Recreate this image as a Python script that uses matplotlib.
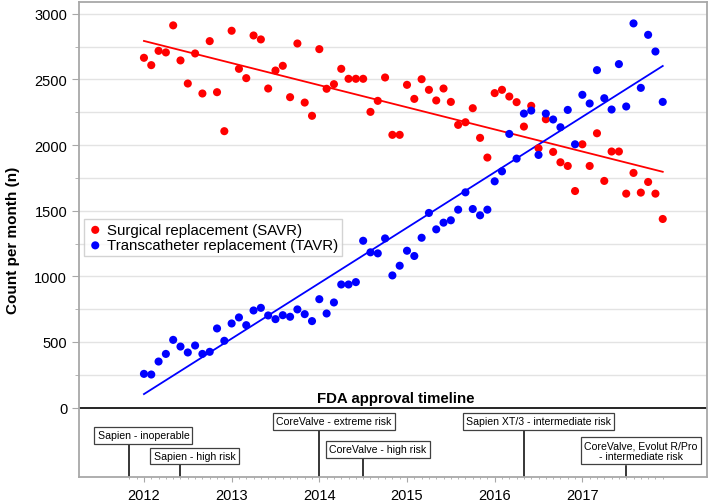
import numpy as np
import matplotlib
matplotlib.use("Agg")
import matplotlib.pyplot as plt
from matplotlib.ticker import FixedLocator

plt.rcParams['font.family'] = ['Liberation Sans', 'DejaVu Sans']

# monthly counts, Jan 2012 - Dec 2017
start_year = 2012
savr = [2665, 2609, 2718, 2706, 2912, 2645, 2469, 2698, 2393, 2792, 2403, 2106,
        2871, 2581, 2510, 2835, 2805, 2431, 2568, 2604, 2365, 2774, 2324, 2223,
        2731, 2429, 2464, 2581, 2505, 2505, 2505, 2253, 2337, 2515, 2078, 2078,
        2459, 2352, 2502, 2421, 2340, 2431, 2329, 2154, 2174, 2281, 2055, 1905,
        2396, 2421, 2370, 2327, 2141, 2299, 1976, 2197, 1948, 1869, 1841, 1650,
        2006, 1841, 2090, 1727, 1951, 1951, 1630, 1788, 1638, 1719, 1630, 1437]
tavr = [257, 252, 351, 409, 516, 465, 420, 473, 409, 425, 603, 509,
        641, 687, 628, 740, 760, 702, 674, 704, 692, 748, 712, 659,
        826, 717, 801, 938, 938, 956, 1271, 1183, 1175, 1289, 1007, 1081,
        1195, 1155, 1294, 1483, 1358, 1409, 1427, 1508, 1640, 1513, 1465, 1508,
        1724, 1800, 2085, 1897, 2240, 2263, 1925, 2240, 2195, 2136, 2268, 2006,
        2383, 2317, 2571, 2357, 2271, 2617, 2294, 2927, 2436, 2840, 2713, 2329]
series_labels = ['Surgical replacement (SAVR)', 'Transcatheter replacement (TAVR)']
series_colors = ['#ff0000', '#0000ff']

# FDA approvals (decimal year) and box text
approval_dates = [2011.83, 2012.41, 2014.0, 2014.5, 2016.33, 2017.5]
approval_labels = ['Sapien - inoperable', 'Sapien - high risk',
                   'CoreValve - extreme risk', 'CoreValve - high risk',
                   'Sapien XT/3 - intermediate risk',
                   'CoreValve, Evolut R/Pro\n- intermediate risk']
# where the boxes sit (x centre, y centre, y of box bottom)
box_x = [2011.994, 2012.576, 2014.169, 2014.67, 2016.503, 2017.666]
box_y = [-212, -368, -105, -318, -105, -328]
box_bottom = [-277, -437, -175, -386, -175, -442]

year_ticks = [2012, 2013, 2014, 2015, 2016, 2017]

x = start_year + np.arange(len(savr)) / 12.0

fig = plt.figure(figsize=(7.09, 5.02), dpi=100)
ax = fig.add_axes([0.1114, 0.048, 0.8856, 0.946])
ymin, ymax = -528, 3090
ax.set_xlim(2011.259, 2018.42)
ax.set_ylim(ymin, ymax)

# grid only above zero
for g in np.arange(250, 3001, 250):
    ax.axhline(g, color='#e3e3e3', lw=1.0, zorder=0)
ax.axhline(0, color='black', lw=1.2, zorder=1)

for vals, col, lab in zip([savr, tavr], series_colors, series_labels):
    ax.scatter(x, vals, s=34, color=col, edgecolors='none', zorder=3, label=lab)
    k, b = np.polyfit(x, vals, 1)
    ax.plot([x[0], x[-1]], [k * x[0] + b, k * x[-1] + b], color=col, lw=1.3, zorder=2)

ax.text(2014.87, 22, 'FDA approval timeline', ha='center', va='bottom',
        fontsize=10.8, fontweight='bold')

for d, lab, bx, by, bb in zip(approval_dates, approval_labels, box_x, box_y, box_bottom):
    ax.plot([d, d], [ymin, bb], color='black', lw=1.1, zorder=2)
    ax.text(bx, by, lab, ha='center', va='center', fontsize=7.6, linespacing=1.1,
            bbox=dict(boxstyle='square,pad=0.3', fc='white', ec='#404040', lw=0.9))

# axes styling
for s in ax.spines.values():
    s.set_color('#a8a8a8')
    s.set_linewidth(1.3)
ax.yaxis.set_major_locator(FixedLocator([0, 500, 1000, 1500, 2000, 2500, 3000]))
ax.yaxis.set_minor_locator(FixedLocator(list(np.arange(250, 3000, 500))))
ax.xaxis.set_major_locator(FixedLocator(year_ticks))
ax.xaxis.set_minor_locator(FixedLocator(list(2011 + np.arange(10, 84) / 12.0)))
ax.set_xticklabels([str(y) for y in year_ticks])
ax.tick_params(axis='y', which='major', labelsize=10.5, length=5, color='#a8a8a8', pad=3.5)
ax.tick_params(axis='y', which='minor', length=3, color='#a8a8a8')
ax.tick_params(axis='x', which='major', labelsize=10.5, length=3.3, color='#a8a8a8', pad=5)
ax.tick_params(axis='x', which='minor', length=1.6, color='#a8a8a8')
ax.set_ylabel('Count per month (n)', fontsize=11, fontweight='bold', labelpad=10)

leg = ax.legend(loc='upper left', bbox_to_anchor=(0.008, 0.543), borderaxespad=0,
                fontsize=10.8, frameon=True, fancybox=False, handletextpad=0.25,
                handlelength=1.0, borderpad=0.25, labelspacing=0.1, markerscale=1.0)
leg.get_frame().set_edgecolor('#c8c8c8')
leg.get_frame().set_linewidth(1.0)

fig.savefig('out.png', dpi=100)
